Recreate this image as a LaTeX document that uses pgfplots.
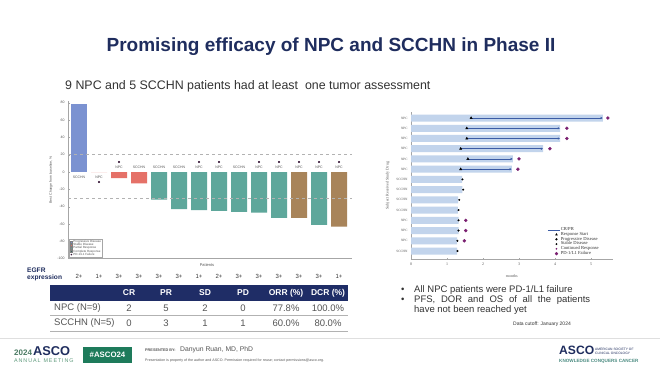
\documentclass[border=0pt]{standalone}
\usepackage{fontspec}
\setmainfont{Liberation Sans}
\newfontfamily\seriffont{Liberation Serif}
\usepackage{pgfplots}
\pgfplotsset{compat=1.18}
\usetikzlibrary{arrows.meta}
\definecolor{navy}{HTML}{1F2D5E}
\definecolor{hdr}{HTML}{1F2D66}
\definecolor{txt}{HTML}{333333}
\definecolor{rowtxt}{HTML}{555555}
\definecolor{pdblue}{HTML}{7B92D1}
\definecolor{sdred}{HTML}{E57168}
\definecolor{prteal}{HTML}{5EA79B}
\definecolor{crbrown}{HTML}{A8845A}
\definecolor{swim}{HTML}{C2D4EC}
\definecolor{crline}{HTML}{3C5CA5}
\definecolor{purp}{HTML}{7A1F70}
\definecolor{dotc}{HTML}{3A1A3A}
\definecolor{ascogreen}{HTML}{1E7B5B}
\definecolor{mgreen}{HTML}{5E9A7C}
\definecolor{kcc}{HTML}{4C8C82}
\newcommand{\fs}[1]{\fontsize{#1}{#1}\selectfont}
\begin{document}
\begin{tikzpicture}[x=1pt,y=1pt]
\path[use as bounding box, fill=white] (0,0) rectangle (660,371);
% title
\node[anchor=base, inner sep=0, font=\bfseries\fs{19}, text=navy] at (331,319) {Promising efficacy of NPC and SCCHN in Phase II};
\node[anchor=base west, inner sep=0, font=\fs{12.4}, text=txt] at (65,281.5) {9 NPC and 5 SCCHN patients had at least\ \ one tumor assessment};

% waterfall
\begin{axis}[at={(68pt,112.4pt)}, anchor=south west, scale only axis,
  width=284pt, height=157.6pt, xmin=-0.55, xmax=13.65, ymin=-100, ymax=82,
  axis lines*=left, axis line style={gray!70, -}, clip=false,
  /pgf/number format/assume math mode=true,
  xtick=\empty, ytick={-100,-80,...,80},
  tick style={gray!70}, major tick length=1.5pt,
  yticklabel style={font=\fs{3.5}, text=rowtxt},
  ylabel={Best Change from baseline, \%}, ylabel style={font=\fs{3.5}, text=rowtxt},
  ylabel shift=-2pt,
  legend style={at={(0.005,0.005)}, anchor=south west, font=\fs{3}, draw=gray!70,
    inner sep=0.4pt, row sep=-1.8pt, nodes={inner sep=0.6pt}, text=rowtxt},
  legend cell align=left]
\addplot[ybar, bar width=16pt, bar shift=0pt, fill=pdblue, draw=none,
  legend image code/.code={\draw[fill=pdblue,draw=gray] (0pt,-1pt) rectangle (2.4pt,1.4pt);}]
  coordinates {(0,79)};
\addlegendentry{Progressive Disease}
\addplot[ybar, bar width=16pt, bar shift=0pt, fill=sdred, draw=none,
  legend image code/.code={\draw[fill=sdred,draw=gray] (0pt,-1pt) rectangle (2.4pt,1.4pt);}]
  coordinates {(1,0) (2,-7) (3,-13)};
\addlegendentry{Stable Disease}
\addplot[ybar, bar width=16pt, bar shift=0pt, fill=prteal, draw=none,
  legend image code/.code={\draw[fill=prteal!70!gray,draw=gray] (0pt,-1pt) rectangle (2.4pt,1.4pt);}]
  coordinates {(4,-32) (5,-43) (6,-44) (7,-45) (8,-46) (9,-47) (10,-53) (12,-61)};
\addlegendentry{Partial Response}
\addplot[ybar, bar width=16pt, bar shift=0pt, fill=crbrown, draw=none,
  legend image code/.code={\draw[fill=prteal!60!black,draw=gray] (0pt,-1pt) rectangle (2.4pt,1.4pt);}]
  coordinates {(11,-53) (13,-63)};
\addlegendentry{Complete Response}
\addplot[only marks, mark=*, mark size=0.8pt, dotc,
  legend image code/.code={\fill[dotc] (1.2pt,0.2pt) circle (0.6pt);}]
  coordinates {(1,-11.5) (2,11.5) (6,11.5) (7,11.5) (9,11.5) (10,11.5) (11,11.5) (12,11.5) (13,11.5)};
\addlegendentry{PD-1/L1 Failure}
\addplot[dashed, gray!60, thin, forget plot] coordinates {(-0.55,20) (13.65,20)};
\addplot[dashed, gray!60, thin, forget plot] coordinates {(-0.55,-30) (13.65,-30)};
\addplot[draw=none, forget plot, nodes near coords, point meta=explicit symbolic,
  nodes near coords style={font=\fs{3.5}, text=rowtxt, anchor=center, inner sep=0}]
  table[meta=l] {
x y l
0 -5.8 SCCHN
1 -5.8 NPC
2 5.8 NPC
3 5.8 SCCHN
4 5.8 SCCHN
5 5.8 SCCHN
6 5.8 NPC
7 5.8 NPC
8 5.8 SCCHN
9 5.8 NPC
10 5.8 NPC
11 5.8 NPC
12 5.8 NPC
13 5.8 NPC
};
\addplot[draw=none, forget plot, nodes near coords, point meta=explicit symbolic,
  nodes near coords style={font=\fs{6}, text=txt, anchor=base, inner sep=0}]
  table[meta=l] {
x y l
0 -122.5 2+
1 -122.5 1+
2 -122.5 3+
3 -122.5 3+
4 -122.5 3+
5 -122.5 3+
6 -122.5 1+
7 -122.5 2+
8 -122.5 3+
9 -122.5 3+
10 -122.5 3+
11 -122.5 3+
12 -122.5 3+
13 -122.5 1+
};
\end{axis}
\node[font=\fs{4}, text=rowtxt] at (207,106) {Patients};
\node[anchor=base west, inner sep=0, font=\bfseries\fs{6.6}, text=navy] at (27,98.5) {EGFR};
\node[anchor=base west, inner sep=0, font=\bfseries\fs{6.6}, text=navy] at (27,91.5) {expression};

% table
\fill[hdr] (50,70) rectangle (348,86);
\foreach \x/\t in {129/CR,166/PR,205/SD,243/PD,286/ORR (\%),328/DCR (\%)}
  \node[font=\bfseries\fs{8.5}, text=white, inner sep=0] at (\x,78) {\t};
\node[anchor=west, font=\fs{9.5}, text=rowtxt, inner sep=0] at (54,63) {NPC\ (N=9)};
\node[anchor=west, font=\fs{9.5}, text=rowtxt, inner sep=0] at (54,48) {SCCHN\ (N=5)};
\foreach \x/\t in {129/2,166/5,205/2,243/0,286/77.8\%,328/100.0\%}
  \node[font=\fs{9.5}, text=rowtxt, inner sep=0] at (\x,63) {\t};
\foreach \x/\t in {129/0,166/3,205/1,243/1,286/60.0\%,328/80.0\%}
  \node[font=\fs{9.5}, text=rowtxt, inner sep=0] at (\x,48) {\t};
\draw[gray!60, line width=0.8pt] (50,55.5) -- (348,55.5);
\draw[gray!60, line width=0.8pt] (50,39.5) -- (348,39.5);

% swimmer
\begin{axis}[at={(411pt,111.8pt)}, anchor=south west, scale only axis,
  width=201.6pt, height=147.3pt, xmin=0, xmax=5.6, ymin=0.2, ymax=14.6,
  axis lines*=left, axis line style={gray!70,-}, clip=false,
  /pgf/number format/assume math mode=true,
  xtick={0,...,5}, ytick={1,...,14},
  yticklabels={SCCHN,NPC,NPC,NPC,SCCHN,SCCHN,SCCHN,SCCHN,NPC,NPC,NPC,NPC,NPC,NPC},
  tick style={gray!70}, major tick length=1.5pt,
  ticklabel style={font=\seriffont\fs{3.3}, text=rowtxt},
  xticklabel style={font=\seriffont\fs{4}},
  xlabel={months}, xlabel style={font=\seriffont\fs{4}, text=rowtxt}, xlabel shift=2pt,
  ylabel={Subject Received Study Drug}, ylabel style={font=\seriffont\fs{4}, text=rowtxt},
  legend style={at={(0.675,0.015)}, anchor=south west, draw=none, fill=none,
    font=\seriffont\fs{4.6}, row sep=-0.9pt, inner sep=0.3pt, nodes={inner sep=0.5pt}, text=txt},
  legend cell align=left]
\addplot[xbar, bar width=7pt, bar shift=0pt, fill=swim, draw=none, forget plot]
  coordinates {(5.33,14) (4.14,13) (4.14,12) (3.67,11) (2.83,10) (2.8,9) (1.42,8) (1.43,7) (1.31,6) (1.30,5) (1.32,4) (1.32,3) (1.28,2) (1.28,1)};
\addplot[crline, line width=0.7pt, -{Latex[length=2.2pt,width=2.4pt]}, forget plot] coordinates {(1.67,14) (5.33,14)};
\addplot[crline, line width=0.7pt, -{Latex[length=2.2pt,width=2.4pt]}, forget plot] coordinates {(1.55,13) (4.14,13)};
\addplot[crline, line width=0.7pt, -{Latex[length=2.2pt,width=2.4pt]}, forget plot] coordinates {(1.55,12) (4.14,12)};
\addplot[crline, line width=0.7pt, -{Latex[length=2.2pt,width=2.4pt]}, forget plot] coordinates {(1.38,11) (3.67,11)};
\addplot[crline, line width=0.7pt, -{Latex[length=2.2pt,width=2.4pt]}, forget plot] coordinates {(1.58,10) (2.83,10)};
\addplot[crline, line width=0.7pt, -{Latex[length=2.2pt,width=2.4pt]}, forget plot] coordinates {(1.38,9) (2.8,9)};
\addplot[only marks, mark=triangle*, mark size=1.3pt, black, forget plot]
  coordinates {(1.67,14) (1.55,13) (1.55,12) (1.38,11) (1.58,10) (1.38,9)};
\addplot[only marks, mark=*, mark size=0.8pt, black, forget plot]
  coordinates {(1.43,8) (1.45,7) (1.34,6) (1.32,5) (1.32,4) (1.32,3) (1.29,2) (1.29,1)};
\addplot[only marks, mark=*, mark size=1.5pt, purp, forget plot]
  coordinates {(5.47,14) (4.33,13) (4.33,12) (3.86,11) (3.0,10) (2.97,9) (1.52,4) (1.52,3) (1.48,2)};
\addlegendimage{crline, line width=0.7pt, legend image code/.code={\draw[crline, line width=0.7pt] (0pt,0pt) -- (12pt,0pt);}}
\addlegendentry{CR/PR}
\addlegendimage{only marks, mark=triangle*, mark size=1.1pt, black}
\addlegendentry{Response Start}
\addlegendimage{only marks, mark=*, mark size=0.9pt, black}
\addlegendentry{Progressive Disease}
\addlegendimage{only marks, mark=*, mark size=0.7pt, black}
\addlegendentry{Stable Disease}
\addlegendimage{only marks, mark=*, mark size=0.6pt, purp}
\addlegendentry{Continued Response}
\addlegendimage{only marks, mark=*, mark size=1.4pt, purp}
\addlegendentry{PD-1/L1 Failure}
\end{axis}

% bullets
\node[anchor=base west, inner sep=0, font=\fs{9.5}, text=txt] at (401,78.5) {\textbullet};
\node[anchor=base west, inner sep=0, font=\fs{9.5}, text=txt] at (414,78.5) {All NPC patients were PD-1/L1 failure};
\node[anchor=base west, inner sep=0, font=\fs{9.5}, text=txt] at (401,68.5) {\textbullet};
\node[anchor=base west, inner sep=0, font=\fs{9.5}, text=txt] at (414,68.5) {\makebox[176pt][s]{PFS, DOR and OS of all the patients}};
\node[anchor=base west, inner sep=0, font=\fs{9.5}, text=txt] at (414,58.5) {have not been reached yet};
\node[anchor=base west, inner sep=0, font=\fs{5}, text=txt] at (513,45) {Data cutoff: January 2024};

% footer
\draw[gray!25, line width=0.6pt] (0,33) -- (660,33);
\node[anchor=base west, inner sep=0, font=\bfseries\fs{8}, text=mgreen!80!black] at (14,15) {2024};
\node[anchor=base west, inner sep=0, font=\bfseries\fs{12.8}, text=navy] at (33,15) {ASCO};
\node[anchor=base west, inner sep=0, font=\fs{5.4}, text=mgreen] at (14,8.5) {A\,N\,N\,U\,A\,L\ \ M\,E\,E\,T\,I\,N\,G};
\fill[ascogreen] (83,8) rectangle (132,24);
\node[font=\bfseries\fs{7.8}, text=white, inner sep=0] at (107.5,16) {\#ASCO24};
\node[anchor=base west, inner sep=0, font=\bfseries\fs{3.8}, text=rowtxt] at (145,19) {PRESENTED BY:};
\node[anchor=base west, inner sep=0, font=\fs{6.8}, text=rowtxt] at (180,19) {Danyun Ruan, MD, PhD};
\node[anchor=base west, inner sep=0, font=\fs{3.6}, text=rowtxt] at (145,9.5) {Presentation is property of the author and ASCO. Permission required for reuse; contact permissions@asco.org.};
\node[anchor=base west, inner sep=0, font=\bfseries\fs{12.1}, text=navy] at (559,16) {ASCO};
\node[anchor=base west, inner sep=0, font=\fs{3.3}, text=navy] at (595,20.5) {AMERICAN SOCIETY OF};
\node[anchor=base west, inner sep=0, font=\fs{3.3}, text=navy] at (595,16.5) {CLINICAL ONCOLOGY};
\node[anchor=base west, inner sep=0, font=\bfseries\fs{4.6}, text=kcc] at (559,8) {KNOWLEDGE CONQUERS CANCER};
\end{tikzpicture}
\end{document}
